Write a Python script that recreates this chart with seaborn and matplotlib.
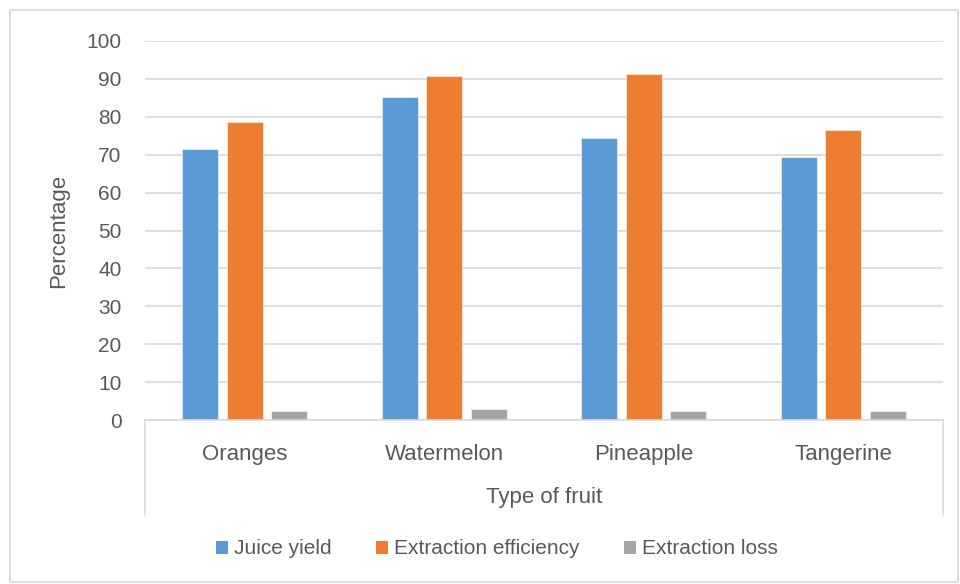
import matplotlib
matplotlib.use("Agg")
import matplotlib.pyplot as plt
import seaborn as sns
import pandas as pd
from matplotlib.lines import Line2D
from matplotlib.patches import Rectangle, Patch

fruits = ["Oranges", "Watermelon", "Pineapple", "Tangerine"]
juice_yield = [71.4, 85.1, 74.3, 69.4]
extraction_efficiency = [78.7, 90.7, 91.3, 76.4]
extraction_loss = [2.4, 2.8, 2.4, 2.4]
series_names = ["Juice yield", "Extraction efficiency", "Extraction loss"]
colors = ["#5B9BD5", "#ED7D31", "#A5A5A5"]

rows = []
for name, vals in zip(series_names, [juice_yield, extraction_efficiency, extraction_loss]):
    for f, v in zip(fruits, vals):
        rows.append({"Type of fruit": f, "Percentage": v, "Series": name})
df = pd.DataFrame(rows)

sns.set_style("white")
plt.rcParams["font.family"] = ["Liberation Sans", "DejaVu Sans"]
text_color = "#595959"
grid_color = "#D9D9D9"

fig = plt.figure(figsize=(9.6, 5.84), dpi=100)
ax = fig.add_axes([145/960, 1-420/584, (943-145)/960, (420-41)/584])

sns.barplot(data=df, x="Type of fruit", y="Percentage", hue="Series",
            palette=colors, saturation=1, width=0.67, gap=0.2, ax=ax, legend=False,
            edgecolor="white", linewidth=0.4, errorbar=None)

ax.set_ylim(0, 100)
ax.set_yticks(range(0, 101, 10))
ax.set_xlim(-0.5, 3.5)
ax.yaxis.grid(True, color=grid_color, linewidth=1.2)
ax.set_axisbelow(True)
for s in ["top", "right", "left"]:
    ax.spines[s].set_visible(False)
ax.spines["bottom"].set_color(grid_color)
ax.spines["bottom"].set_linewidth(1.2)
ax.tick_params(axis="y", length=0, pad=17, labelsize=15, labelcolor=text_color)
ax.tick_params(axis="x", length=0, pad=17, labelsize=16, labelcolor=text_color)
ax.set_ylabel("Percentage", fontsize=16, color=text_color, labelpad=12)
ax.set_xlabel("Type of fruit", fontsize=16, color=text_color, labelpad=16)

# category box vertical lines
ybot = -(515-420)/(420-41)
for xx in [0, 1]:
    ax.add_line(Line2D([xx, xx], [0, ybot], transform=ax.transAxes,
                       color=grid_color, linewidth=1.2, clip_on=False))

handles = [Patch(facecolor=c, edgecolor="none") for c in colors]
fig.legend(handles, series_names, loc="center", bbox_to_anchor=(497/960, 1-549/584),
           ncol=3, frameon=False, fontsize=15, labelcolor=text_color,
           handlelength=0.6, handleheight=0.6, handletextpad=0.3, columnspacing=2.1)

fig.add_artist(Rectangle((10/960, 2/584), 948/960, 572/584, transform=fig.transFigure,
                         fill=False, edgecolor=grid_color, linewidth=1.2))

fig.savefig("out.png", dpi=100)
